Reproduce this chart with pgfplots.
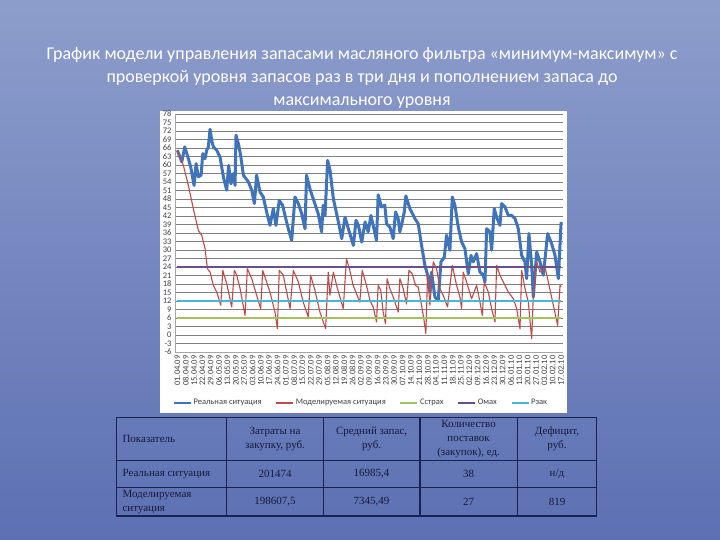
\documentclass[border=0pt]{standalone}
\usepackage{pgfplots}
\pgfplotsset{compat=1.18}
\usepackage{fontspec}
\setmainfont{Carlito}
\newfontfamily\tabfont{Liberation Serif}

\definecolor{bgtop}{HTML}{8D9DCB}
\definecolor{bgbot}{HTML}{5C70B3}
\definecolor{realc}{HTML}{3F74BA}
\definecolor{modc}{HTML}{BE4B48}
\definecolor{cstr}{HTML}{A5C05C}
\definecolor{omax}{HTML}{6A4F8C}
\definecolor{rzak}{HTML}{4BB6CF}
\definecolor{tabline}{HTML}{1B2152}
\definecolor{tabtext}{HTML}{151A3A}

\begin{document}
\begin{tikzpicture}[x=1pt,y=1pt]
\useasboundingbox (0,0) rectangle (720,540);
\shade[top color=bgtop, bottom color=bgbot] (0,0) rectangle (720,540);

% title
\node[text=white, align=center, font=\fontsize{18}{23}\selectfont] at (362,462)
  {График модели управления запасами масляного фильтра «минимум-максимум» с\\
   проверкой уровня запасов раз в три дня и пополнением запаса до\\
   максимального уровня};

% chart area
\fill[white] (160,127) rectangle (567,429);

\begin{axis}[
    at={(175pt,188pt)}, anchor=south west,
    scale only axis, width=388pt, height=238pt,
    xmin=-2, xmax=323.6, ymin=-6, ymax=78,
    ytick={-6,-3,...,78},
    xtick={0,7,...,322},
    xticklabels={01.04.09,08.04.09,15.04.09,22.04.09,29.04.09,06.05.09,13.05.09,20.05.09,27.05.09,03.06.09,10.06.09,17.06.09,24.06.09,01.07.09,08.07.09,15.07.09,22.07.09,29.07.09,05.08.09,12.08.09,19.08.09,26.08.09,02.09.09,09.09.09,16.09.09,23.09.09,30.09.09,07.10.09,14.10.09,21.10.09,28.10.09,04.11.09,11.11.09,18.11.09,25.11.09,02.12.09,09.12.09,16.12.09,23.12.09,30.12.09,06.01.10,13.01.10,20.01.10,27.01.10,03.02.10,10.02.10,17.02.10},
    xticklabel style={rotate=90, anchor=east, font=\fontsize{8.5}{8.5}\selectfont, text=black!75},
    yticklabel style={font=\fontsize{8.5}{8.5}\selectfont, text=black!75},
    /pgf/number format/assume math mode=true,
    ymajorgrids,
    major grid style={draw=black!50, line width=0.7pt},
    axis x line*=bottom, axis y line*=left,
    axis line style={draw=black!35, line width=0.6pt},
    major tick length=0pt,
    legend style={at={(0.48,-0.214)}, anchor=center, draw=none, fill=none,
      font=\fontsize{8.5}{8.5}\selectfont, text=black!75,
      /tikz/every even column/.append style={column sep=12pt}},
    legend columns=5,
    legend image code/.code={\draw[#1, line width=1.2pt] (0pt,0pt) -- (17pt,0pt);},
]
\addplot[realc, line width=3pt, line join=round] coordinates {
(0,65.2)(3.7,61.1)(6.2,66.4)(9.2,62.2)(11.2,59.3)(14,52.8)(15.7,60.5)(17.6,55.8)(19.9,56.4)(21.3,64)
(23.2,62.2)(24.6,65.2)(26,66.4)(27.4,72.6)(28.8,68.7)(30.2,66.4)(33,65.2)(35.8,62.8)(38.6,55.8)(41.4,51.1)
(43,59.9)(45,53.4)(47,57)(48.4,52.8)(49.2,70.5)(51.2,67.5)(53.1,63.4)(55.4,56.4)(59.6,54)(62.4,51.1)
(64.6,46.4)(66.5,56.4)(69.3,50.5)(72.1,48.7)(74.9,43.4)(77.7,38.7)(80.5,44.6)(82.7,38.7)(85.5,47.5)(88.3,45.8)
(90.3,42.2)(93.1,37.5)(95.9,33.4)(98.7,48.7)(101.5,46.4)(104.3,42.8)(107.1,37.5)(108.4,56.4)(111.2,51.6)(114,48.1)
(118.2,42.8)(121,36.4)(122.4,45.8)(123.9,42.2)(126.1,61.6)(128.1,58.1)(130.9,48.1)(135.1,39.9)(137.9,34)(140.7,41.6)
(143.5,37.5)(147.7,31.6)(149.9,40.5)(151.9,38.7)(154.7,32.8)(157.5,39.9)(160.1,36.4)(162.4,42.2)(164.3,38.7)(167.1,33.4)
(168.5,49.5)(171.3,45.2)(174.1,45.8)(175.5,39.3)(178.3,38.1)(181.1,34)(183.1,43.4)(185.3,41.1)(186.7,36.4)(188.7,39.9)
(190.4,43.4)(191.7,49.1)(195.1,44.6)(199.3,41.1)(202.1,39.3)(204.9,31.6)(207.7,24.6)(210,21.1)(211.9,15.2)(213.3,22.2)
(216.1,13.4)(218.9,12.2)(221.2,25.8)(224,27.5)(225.9,35.2)(228.7,29.9)(230.7,48.7)(232.9,45.8)(235.7,38.1)(238.5,32.8)
(241.3,30.5)(244.1,21.6)(246.4,28.1)(248.3,25.8)(251.1,28.7)(253.9,22.2)(256.7,21.1)(258.1,18.7)(259.5,37.5)(262.3,36.4)
(263.7,29.9)(265.9,44.6)(267.9,41.6)(270.7,38.7)(272.1,46.4)(274.9,45.2)(277.7,42.2)(280.5,42.2)(283.3,41.1)(286.1,37.5)
(288.9,28.1)(291.7,25.8)(293.1,19.9)(295,35.8)(297.3,24.6)(298.7,13.4)(301.5,29.3)(304.3,25.8)(307.1,21.1)(310.7,35.8)
(314.1,32.2)(316.9,28.1)(319.7,19.9)(322,39.9)
};
\addlegendentry{Реальная ситуация}
\addplot[modc, line width=1.1pt, line join=round] coordinates {
(0,65.2)(5,59.9)(9.2,52.8)(13.4,44.6)(17.6,36.9)(20.4,35.2)(23.2,30.5)(25.2,23.4)(27.4,22.2)(30.2,17.5)
(33,15.2)(36.4,10.5)(38.1,22.8)(41.4,18.1)(45.6,9.9)(47.8,22.8)(49.8,21.1)(52.6,16.4)(56.8,6.9)(58.7,23.4)
(62.4,19.9)(66.5,14)(69.9,9.3)(71.6,22.8)(74.9,18.7)(77.7,15.2)(81.9,8.1)(83.9,2.2)(85.5,22.8)(88.9,21.1)
(91.7,15.2)(94.6,9.3)(97.3,22.8)(101.5,18.7)(105.6,11.6)(109.8,6.4)(111.8,21.1)(115.4,15.8)(119.6,8.1)(124.4,2.2)
(126.6,22.2)(128,14)(130.9,22.2)(133.6,17.5)(139.2,9.3)(141.9,26.9)(144.7,22.8)(147.5,17.5)(153.1,11.6)(155.1,22.8)
(158.7,17.5)(161.6,12.2)(164.3,9.9)(167.1,4.6)(168.5,17.5)(170.7,15.8)(172.7,8.1)(174.6,4)(176,19.9)(178.3,16.4)
(181.1,13.4)(185.3,8.1)(186.7,19.9)(189.5,16.4)(192.3,10.9)(194.3,22.8)(197.1,21.6)(199.9,17.5)(202.1,16.9)(204.9,10.5)
(207.2,4.6)(208.5,0.5)(210,21.6)(211.9,10.5)(214.7,25.8)(217.5,23.4)(220.3,16.4)(223.1,14)(226.7,9.9)(230.7,24.6)
(234.3,17.5)(237.1,13.4)(238.5,9.3)(239.9,22.2)(242.7,18.7)(246.9,12.8)(251.1,17.5)(253.9,11.6)(255.9,6.9)(257.5,18.7)
(260.9,15.2)(263.7,9.3)(266.5,4.6)(267.9,24.6)(270.7,21.1)(274.9,17.5)(277.7,15.2)(281.9,12.8)(284.7,9.3)(287.5,2.2)
(288.9,22.8)(291.7,16.4)(294.5,11.6)(297.3,-1.3)(298.7,14)(301.5,25.8)(304.3,22.2)(308.5,24)(311.3,18.7)(315.5,10.5)
(319.1,3.4)(321.1,17.5)(322,17)
};
\addlegendentry{Моделируемая ситуация}
\addplot[cstr, line width=1.2pt] coordinates {(0,6)(322,6)};
\addlegendentry{Сстрах}
\addplot[omax, line width=1.4pt] coordinates {(0,24)(322,24)};
\addlegendentry{Омах}
\addplot[rzak, line width=1.4pt] coordinates {(0,12)(322,12)};
\addlegendentry{Рзак}
\end{axis}

% table
\begin{scope}[tabline, line width=1.3pt]
\draw (116.7,24) rectangle (596.7,122.7);
\draw (116.7,79.3) -- (596.7,79.3);
\draw (116.7,52.7) -- (596.7,52.7);
\foreach \cx in {226.7,323.3,420,517.3} \draw (\cx,24) -- (\cx,122.7);
\end{scope}
\begin{scope}[every node/.style={text=tabtext, font=\tabfont\fontsize{11}{14}\selectfont, align=center}]
\node[anchor=west, align=left] at (119,101) {Показатель};
\node at (275,101) {Затраты на\\закупку, руб.};
\node at (371.6,101) {Средний запас,\\руб.};
\node at (468.6,101) {Количество\\поставок\\(закупок), ед.};
\node at (557,101) {Дефицит,\\руб.};
\node[anchor=west, align=left] at (119,66) {Реальная ситуация};
\node at (275,66) {201474};
\node at (371.6,66) {16985,4};
\node at (468.6,66) {38};
\node at (557,66) {н/д};
\node[anchor=west, align=left] at (119,38.3) {Моделируемая\\ситуация};
\node at (275,38.3) {198607,5};
\node at (371.6,38.3) {7345,49};
\node at (468.6,38.3) {27};
\node at (557,38.3) {819};
\end{scope}
\end{tikzpicture}
\end{document}
